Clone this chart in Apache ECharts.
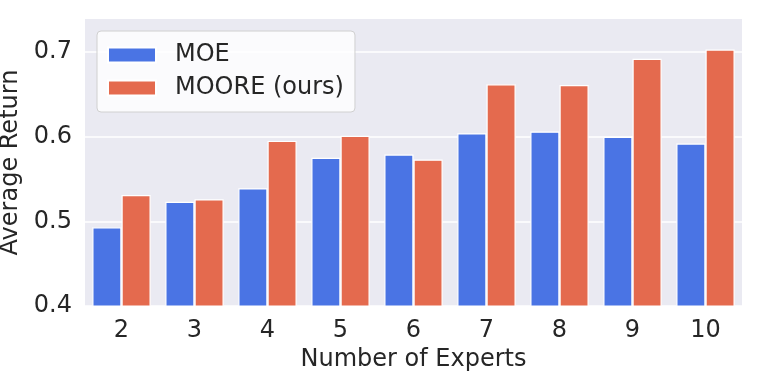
<!DOCTYPE html>
<html>
<head>
<meta charset="utf-8">
<script src="https://cdn.jsdelivr.net/npm/echarts@6/dist/echarts.min.js"></script>
<style>
html,body{margin:0;padding:0;background:#ffffff;}
#chart{width:761px;height:381px;}
</style>
</head>
<body>
<div id="chart"></div>
<script>
var categories = ['2','3','4','5','6','7','8','9','10'];
var moeValues = [0.493,0.523,0.539,0.575,0.579,0.604,0.606,0.600,0.592];
var mooreValues = [0.531,0.526,0.595,0.601,0.573,0.662,0.661,0.692,0.703];
var seriesNames = ['MOE','MOORE (ours)'];
var yTicks = {min:0.4, max:0.739, interval:0.1};

var FONT = 'DejaVu Sans';
var TXT = '#262626';
var chart = echarts.init(document.getElementById('chart'), null, {renderer:'canvas'});
chart.setOption({
  animation:false,
  backgroundColor:'#ffffff',
  textStyle:{fontFamily:FONT},
  grid:{left:85,right:19,top:19,bottom:75,show:true,backgroundColor:'#EAEAF2',borderWidth:0,
        containLabel:false,outerBoundsMode:'none'},
  legend:{
    left:97, top:31, orient:'vertical',
    itemWidth:48, itemHeight:15, itemGap:9,
    padding:[12,11,12,10],
    backgroundColor:'rgba(255,255,255,0.8)',
    borderColor:'#d0d0d0', borderWidth:1, borderRadius:4,
    icon:'rect',
    textStyle:{fontFamily:FONT,fontSize:24,color:TXT,padding:[0,0,0,14]},
    data:seriesNames
  },
  xAxis:{
    type:'category', data:categories,
    name:'Number of Experts', nameLocation:'middle', nameGap:42,
    nameTextStyle:{fontFamily:FONT,fontSize:24,color:TXT},
    axisLine:{show:false}, axisTick:{show:false},
    axisLabel:{fontFamily:FONT,fontSize:24,color:TXT,margin:13},
    splitLine:{show:false}
  },
  yAxis:{
    type:'value', min:yTicks.min, max:yTicks.max, interval:yTicks.interval,
    name:'Average Return', nameLocation:'middle', nameGap:58,
    nameTextStyle:{fontFamily:FONT,fontSize:24,color:TXT},
    axisLine:{show:false}, axisTick:{show:false},
    axisLabel:{fontFamily:FONT,fontSize:24,color:TXT,margin:13,showMaxLabel:false,
      formatter:function(v){return v.toFixed(1);}},
    splitLine:{show:true,showMaxLine:false,lineStyle:{color:'#ffffff',width:1.5}}
  },
  series:[
    {name:seriesNames[0],type:'bar',data:moeValues,barGap:'0%',barCategoryGap:'20%',
     itemStyle:{color:'#4a74e4',borderColor:'#ffffff',borderWidth:1.2}},
    {name:seriesNames[1],type:'bar',data:mooreValues,barGap:'0%',barCategoryGap:'20%',
     itemStyle:{color:'#e46a4e',borderColor:'#ffffff',borderWidth:1.2}}
  ]
});
</script>
</body>
</html>
